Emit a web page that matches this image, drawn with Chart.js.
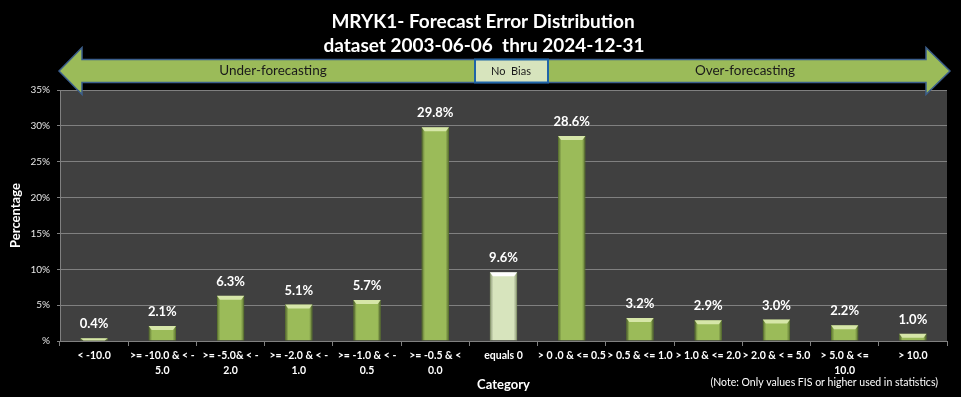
<!DOCTYPE html>
<html>
<head>
<meta charset="utf-8">
<script src="https://cdn.jsdelivr.net/npm/chart.js@4.4.1/dist/chart.umd.min.js"></script>
<style>
html,body{margin:0;padding:0;background:#000;}
#wrap{width:961px;height:397px;position:relative;}
</style>
</head>
<body>
<div id="wrap"><canvas id="c" width="961" height="397"></canvas></div>
<script>
// ---- data ----
const titleLines = ["MRYK1- Forecast Error Distribution", "dataset 2003-06-06  thru 2024-12-31"];
const categories = [
  ["< -10.0"],
  [">= -10.0 & < -", "5.0"],
  [">= -5.0& < -", "2.0"],
  [">= -2.0 & < -", "1.0"],
  [">= -1.0 & < -", "0.5"],
  [">= -0.5 & <", "0.0"],
  ["equals 0"],
  ["> 0 .0 & <= 0.5"],
  ["> 0.5 & <= 1.0"],
  ["> 1.0 & <= 2.0"],
  ["> 2.0 & < = 5.0"],
  ["> 5.0 & <=", "10.0"],
  ["> 10.0"]
];
const percentages = [0.4, 2.1, 6.3, 5.1, 5.7, 29.8, 9.6, 28.6, 3.2, 2.9, 3.0, 2.2, 1.0];
const yTickLabels = ["%", "5%", "10%", "15%", "20%", "25%", "30%", "35%"];
const biasLabels = ["Under-forecasting", "No  Bias", "Over-forecasting"];
const yAxisTitle = "Percentage";
const xAxisTitle = "Category";
const noteText = "(Note: Only values FIS or higher used in statistics)";
const zeroCategory = "equals 0";

// ---- styles ----
const FONT = "Lato, 'Liberation Sans', sans-serif";
const GREEN = "#9bbb59";
const PALE = "#d7e4bd";
const barColors = categories.map(c => c[0] === zeroCategory ? PALE : GREEN);

const bgPlugin = {
  id: 'bg',
  beforeDraw(chart) {
    const {ctx, chartArea: a} = chart;
    ctx.save();
    ctx.fillStyle = "#404040";
    ctx.fillRect(a.left, a.top, a.right - a.left, a.bottom - a.top);
    ctx.restore();
  }
};

const decorPlugin = {
  id: 'decor',
  afterDraw(chart) {
    const ctx = chart.ctx;
    ctx.save();
    // title
    ctx.fillStyle = "#ffffff";
    ctx.textAlign = "center";
    ctx.textBaseline = "middle";
    ctx.font = "bold 19px " + FONT;
    ctx.fillText(titleLines[0], 483, 22);
    ctx.fillText(titleLines[1], 484, 46);

    // double arrow
    const tipL = 59, tipR = 950, headL = 82, headR = 926, cy = 71;
    const bTop = 59.5, bBot = 82.5, hTop = 47.5, hBot = 94.5;
    ctx.beginPath();
    ctx.moveTo(tipL, cy);
    ctx.lineTo(headL, hTop);
    ctx.lineTo(headL, bTop);
    ctx.lineTo(headR, bTop);
    ctx.lineTo(headR, hTop);
    ctx.lineTo(tipR, cy);
    ctx.lineTo(headR, hBot);
    ctx.lineTo(headR, bBot);
    ctx.lineTo(headL, bBot);
    ctx.lineTo(headL, hBot);
    ctx.closePath();
    ctx.fillStyle = GREEN;
    ctx.fill();
    ctx.lineWidth = 1.5;
    ctx.strokeStyle = "#3b5e8c";
    ctx.stroke();

    // No Bias box
    ctx.fillStyle = PALE;
    ctx.fillRect(475, 59.5, 73, 23);
    ctx.lineWidth = 2;
    ctx.strokeStyle = "#1f64a8";
    ctx.strokeRect(475, 59.5, 73, 23);

    ctx.fillStyle = "#1a1a1a";
    ctx.font = "13.5px " + FONT;
    ctx.fillText(biasLabels[0], 273, 71);
    ctx.fillText(biasLabels[2], 745, 71);
    ctx.font = "11px " + FONT;
    ctx.fillText(biasLabels[1], 511, 71);

    // note
    ctx.fillStyle = "#ffffff";
    ctx.font = "10.5px " + FONT;
    ctx.textAlign = "right";
    ctx.fillText(noteText, 938, 383);
    ctx.restore();
  }
};

const barStylePlugin = {
  id: 'barStyle',
  afterDatasetsDraw(chart) {
    const ctx = chart.ctx;
    const meta = chart.getDatasetMeta(0);
    ctx.save();
    meta.data.forEach((bar, i) => {
      const p = bar.getProps(['x', 'y', 'base', 'width'], true);
      const l = p.x - p.width / 2, r = p.x + p.width / 2;
      const pale = barColors[i] === PALE;
      const edge = pale ? "rgba(120,140,90,0.55)" : "rgba(70,95,30,0.55)";
      const g = ctx.createLinearGradient(l, 0, r, 0);
      g.addColorStop(0, edge);
      g.addColorStop(0.12, "rgba(0,0,0,0)");
      g.addColorStop(0.88, "rgba(0,0,0,0)");
      g.addColorStop(1, edge);
      ctx.fillStyle = g;
      ctx.fillRect(l, p.y, r - l, p.base - p.y);
      const h = Math.min(4, p.base - p.y);
      ctx.beginPath();
      ctx.moveTo(l, p.y);
      ctx.lineTo(r, p.y);
      ctx.lineTo(r - 3, p.y + h);
      ctx.lineTo(l + 3, p.y + h);
      ctx.closePath();
      ctx.fillStyle = pale ? "#ffffff" : "#d6e6a8";
      ctx.fill();
    });
    ctx.fillStyle = "#ffffff";
    ctx.font = "bold 13px " + FONT;
    ctx.textAlign = "center";
    ctx.textBaseline = "middle";
    meta.data.forEach((bar, i) => {
      const p = bar.getProps(['x', 'y'], true);
      ctx.fillText(percentages[i].toFixed(1) + "%", p.x, p.y - 14);
    });
    ctx.restore();
  }
};

new Chart(document.getElementById('c'), {
  type: 'bar',
  data: {
    labels: categories,
    datasets: [{
      data: percentages,
      backgroundColor: barColors,
      borderColor: categories.map(c => c[0] === zeroCategory ? "#b9c99a" : "#7f9d45"),
      borderWidth: 1,
      barPercentage: 0.4,
      categoryPercentage: 1.0
    }]
  },
  options: {
    responsive: false,
    animation: false,
    events: [],
    layout: { padding: { top: 90, right: 14, left: 0, bottom: 0 } },
    plugins: { legend: { display: false }, tooltip: { enabled: false }, title: { display: false } },
    scales: {
      x: {
        offset: true,
        grid: { display: true, drawOnChartArea: false, tickLength: 5, color: "#808080" },
        border: { display: true, color: "#808080" },
        ticks: {
          color: "#ffffff", autoSkip: false, maxRotation: 0, minRotation: 0, padding: 3,
          font: { family: FONT, size: 10.5, weight: 'bold', lineHeight: 1.35 }
        },
        title: {
          display: true, text: xAxisTitle, color: "#ffffff",
          font: { family: FONT, size: 13, weight: 'bold' }, padding: { top: 0, bottom: 4 }
        },
        afterFit(s) { s.height = 56; }
      },
      y: {
        min: 0, max: 35,
        grid: { color: "#808080", tickLength: 3 },
        border: { display: true, color: "#808080" },
        ticks: {
          stepSize: 5, color: "#e6e6e6", padding: 7,
          font: { family: FONT, size: 10 },
          callback: (v, i) => yTickLabels[i]
        },
        title: {
          display: true, text: yAxisTitle, color: "#ffffff",
          font: { family: FONT, size: 13, weight: 'bold' }, padding: { top: 8, bottom: 0 }
        },
        afterFit(s) { s.width = 60; }
      }
    }
  },
  plugins: [bgPlugin, barStylePlugin, decorPlugin]
});
</script>
</body>
</html>
